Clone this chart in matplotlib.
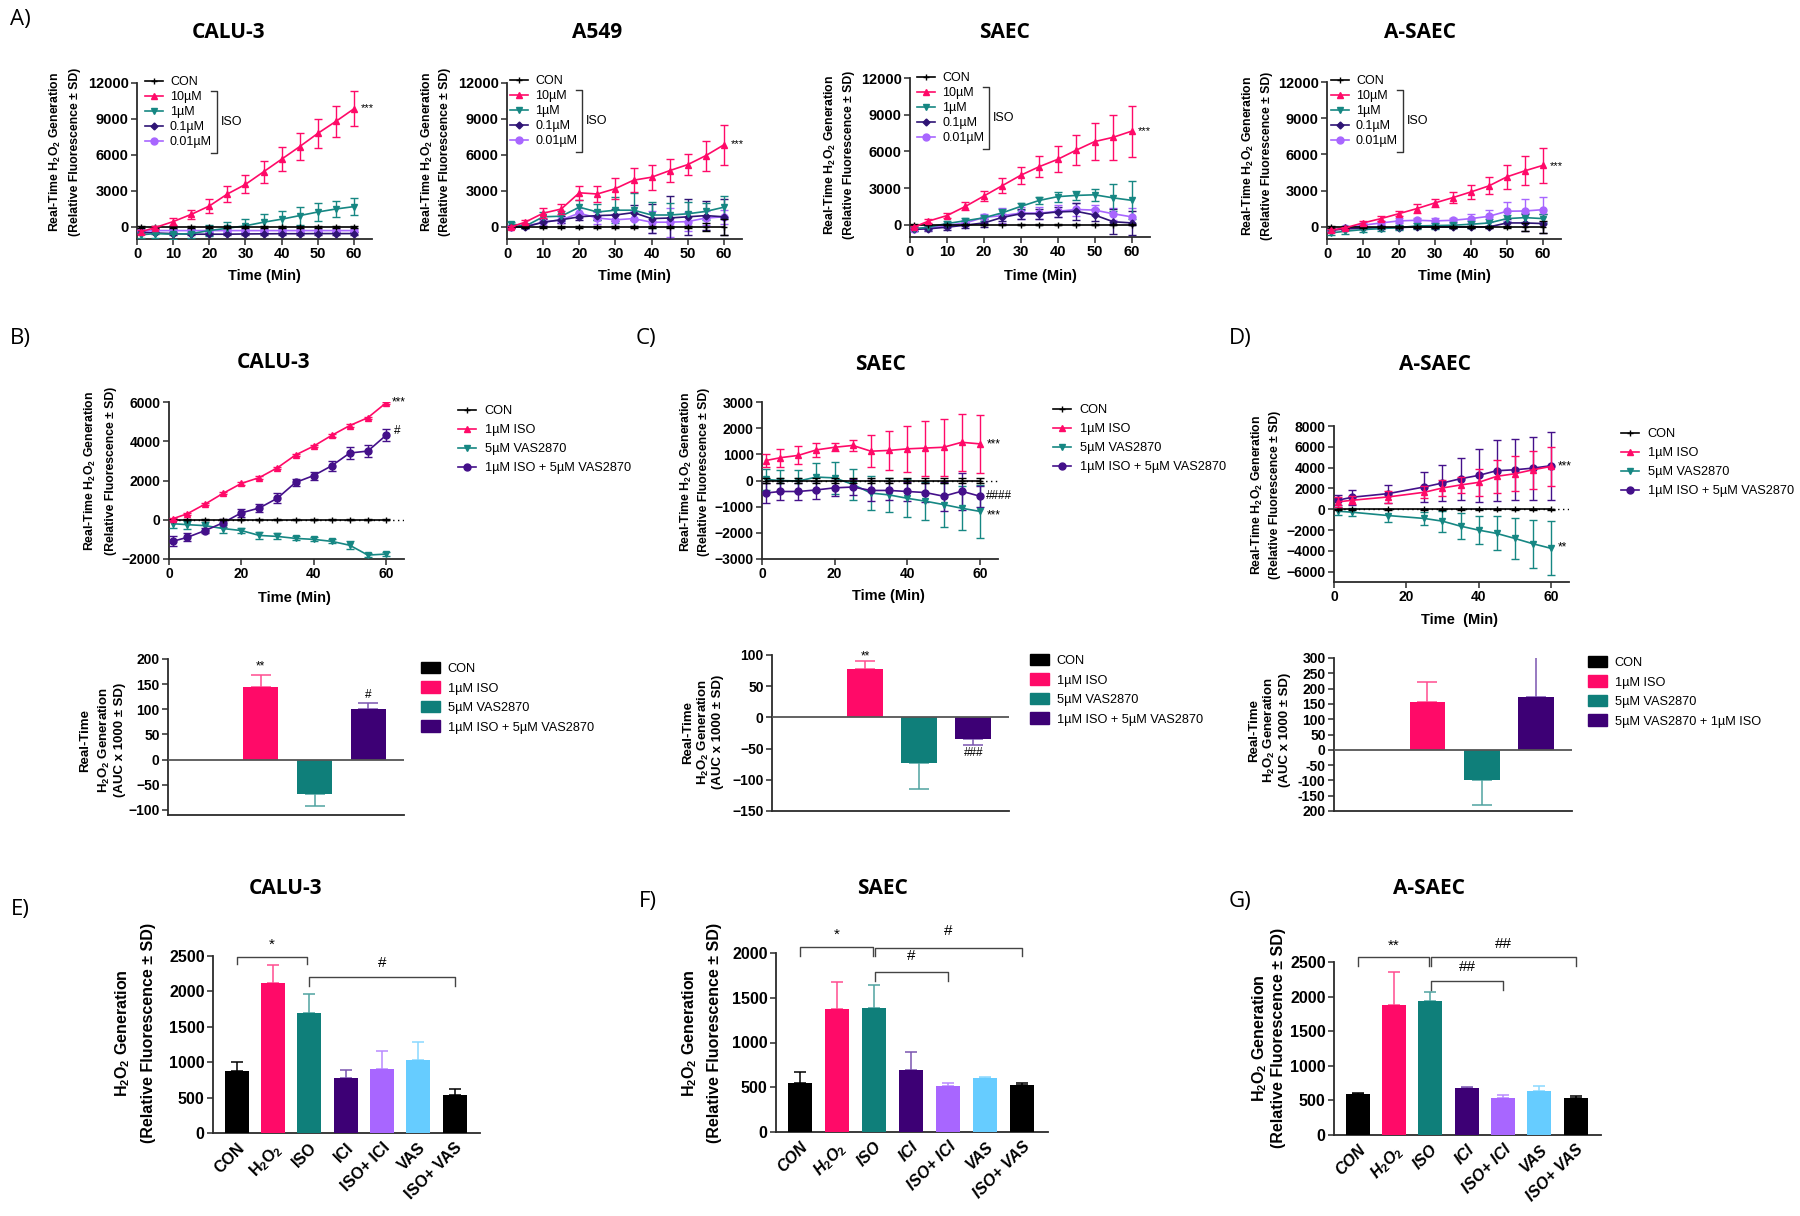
import numpy as np
import matplotlib
matplotlib.use("Agg")
import matplotlib.pyplot as plt
from matplotlib.lines import Line2D
from matplotlib.patches import Patch

# ===================== DATA =====================
t_a = [1, 5, 10, 15, 20, 25, 30, 35, 40, 45, 50, 55, 60]
a_xticks = [0, 10, 20, 30, 40, 50, 60]
a_yticks = [0, 3000, 6000, 9000, 12000]
a_labels = ["CON", "10µM", "1µM", "0.1µM", "0.01µM"]

# A) CALU-3
calu_con = [0, 0, 0, 0, 0, 0, 0, 0, 0, 0, 0, 0, 0]
calu_con_sd = [60, 60, 60, 60, 60, 60, 60, 60, 60, 60, 60, 60, 60]
calu_10 = [-400, -50, 450, 1050, 1750, 2750, 3550, 4600, 5650, 6700, 7800, 8800, 9850]
calu_10_sd = [150, 150, 300, 400, 550, 650, 750, 900, 1000, 1150, 1200, 1300, 1450]
calu_1 = [-650, -550, -600, -550, -300, -100, 100, 400, 650, 950, 1250, 1500, 1700]
calu_1_sd = [300, 350, 400, 400, 450, 500, 600, 650, 700, 750, 750, 700, 700]
calu_01 = [-450, -500, -550, -600, -600, -600, -580, -570, -560, -560, -550, -550, -550]
calu_01_sd = [100, 100, 100, 100, 100, 100, 100, 100, 100, 100, 100, 100, 100]
calu_001 = [-350, -300, -300, -300, -300, -300, -300, -300, -300, -300, -300, -300, -300]
calu_001_sd = [100, 100, 100, 100, 100, 100, 100, 100, 100, 100, 100, 100, 100]

# A) A549
a549_con = [0, 0, 0, 0, 0, 0, 0, 0, 0, 0, 0, 0, 0]
a549_con_sd = [50, 50, 50, 50, 50, 50, 50, 50, 50, 50, 50, 300, 700]
a549_10 = [0, 400, 1150, 1500, 2850, 2750, 3200, 3900, 4150, 4700, 5200, 5950, 6850]
a549_10_sd = [100, 150, 400, 400, 600, 700, 850, 1000, 1050, 950, 900, 1250, 1650]
a549_1 = [280, 60, 850, 900, 1650, 1250, 1400, 1400, 1000, 1000, 1100, 1300, 1650]
a549_1_sd = [150, 150, 400, 400, 600, 700, 1100, 1400, 1100, 1000, 1000, 700, 900]
a549_01 = [0, 0, 400, 600, 850, 950, 1000, 1200, 700, 750, 850, 950, 850]
a549_01_sd = [100, 100, 300, 300, 300, 400, 500, 600, 1200, 1800, 1500, 1200, 1500]
a549_001 = [0, 50, 400, 600, 1150, 750, 600, 700, 400, 400, 450, 750, 850]
a549_001_sd = [100, 100, 300, 300, 400, 500, 500, 600, 900, 1200, 800, 600, 600]

# A) SAEC
saec_con = [0, 0, 0, 0, 0, 0, 0, 0, 0, 0, 0, 0, 0]
saec_con_sd = [50, 50, 50, 50, 50, 50, 50, 50, 50, 50, 50, 50, 50]
saec_10 = [-200, 300, 750, 1500, 2350, 3200, 4050, 4750, 5350, 6100, 6800, 7150, 7650]
saec_10_sd = [100, 150, 200, 330, 400, 600, 700, 850, 1050, 1200, 1500, 1850, 2100]
saec_1 = [-330, -200, 100, 330, 570, 980, 1500, 1990, 2300, 2400, 2450, 2200, 2000]
saec_1_sd = [150, 150, 200, 200, 250, 300, 300, 300, 400, 400, 500, 1100, 1550]
saec_01 = [-380, -330, -200, -30, 150, 600, 900, 900, 1050, 1100, 800, 250, 150]
saec_01_sd = [150, 150, 200, 200, 300, 300, 400, 400, 400, 700, 500, 1000, 1000]
saec_001 = [-330, -280, -50, 150, 600, 750, 950, 950, 1100, 1250, 1200, 900, 650]
saec_001_sd = [150, 150, 200, 250, 300, 600, 500, 500, 500, 500, 400, 500, 700]

# A) A-SAEC
asaec_con = [0, 0, 0, 0, 0, 0, 0, 0, 0, 0, 0, 0, 0]
asaec_con_sd = [50, 50, 50, 50, 50, 50, 50, 50, 50, 50, 50, 300, 500]
asaec_10 = [-280, -80, 330, 690, 1100, 1520, 1990, 2430, 2900, 3400, 4150, 4650, 5100]
asaec_10_sd = [100, 100, 150, 200, 200, 400, 350, 450, 600, 700, 1000, 1200, 1450]
asaec_1 = [-500, -360, -220, -140, -50, 80, 110, 140, 220, 330, 690, 770, 690]
asaec_1_sd = [200, 200, 200, 200, 200, 250, 250, 250, 300, 300, 300, 400, 350]
asaec_01 = [-280, -170, -110, -80, -50, 0, 0, 0, 0, 0, 330, 330, 280]
asaec_01_sd = [100, 100, 100, 100, 100, 100, 100, 100, 100, 100, 300, 700, 800]
asaec_001 = [-280, -100, 140, 330, 500, 550, 500, 550, 690, 880, 1300, 1320, 1430]
asaec_001_sd = [100, 100, 150, 150, 200, 200, 200, 200, 400, 500, 800, 970, 1050]

# B-D line plots
line_labels = ["CON", "1µM ISO", "5µM VAS2870", "1µM ISO + 5µM VAS2870"]
t_b = [1, 5, 10, 15, 20, 25, 30, 35, 40, 45, 50, 55, 60]
b_con = [0, 0, 0, 0, 0, 0, 0, 0, 0, 0, 0, 0, 0]
b_con_sd = [30, 30, 30, 30, 30, 30, 30, 30, 30, 30, 30, 30, 30]
b_iso = [50, 300, 800, 1350, 1850, 2150, 2650, 3300, 3750, 4300, 4800, 5200, 5950]
b_iso_sd = [60, 60, 60, 60, 60, 60, 60, 60, 60, 60, 60, 60, 60]
b_vas = [-200, -250, -300, -450, -550, -800, -850, -950, -1000, -1100, -1300, -1800, -1750]
b_vas_sd = [200, 200, 200, 200, 150, 200, 150, 100, 100, 100, 200, 120, 120]
b_isovas = [-1100, -900, -550, -150, 350, 600, 1100, 1900, 2250, 2750, 3400, 3500, 4300]
b_isovas_sd = [250, 200, 150, 200, 200, 200, 250, 200, 200, 250, 300, 300, 300]

t_c = [1, 5, 10, 15, 20, 25, 30, 35, 40, 45, 50, 55, 60]
c_con = [0, 0, 0, 0, 0, 0, 0, 0, 0, 0, 0, 0, 0]
c_con_sd = [80, 80, 80, 80, 80, 80, 80, 80, 80, 80, 80, 80, 80]
c_iso = [760, 870, 960, 1170, 1270, 1340, 1120, 1150, 1210, 1240, 1270, 1460, 1400]
c_iso_sd = [260, 340, 340, 260, 160, 200, 600, 760, 890, 1050, 1090, 1090, 1120]
c_vas = [40, 0, -20, 130, 100, -150, -480, -550, -680, -790, -920, -1060, -1180]
c_vas_sd = [400, 420, 420, 550, 600, 600, 650, 650, 720, 720, 840, 850, 1000]
c_isovas = [-480, -420, -420, -360, -280, -250, -380, -380, -420, -460, -600, -410, -600]
c_isovas_sd = [380, 330, 330, 330, 300, 300, 400, 350, 350, 350, 550, 700, 400]

t_d = [1, 5, 15, 25, 30, 35, 40, 45, 50, 55, 60]
d_con = [0, 0, 0, 0, 0, 0, 0, 0, 0, 0, 0]
d_con_sd = [50, 50, 50, 50, 50, 50, 50, 50, 50, 50, 50]
d_iso = [700, 860, 1180, 1630, 2040, 2330, 2580, 3160, 3410, 3790, 4110]
d_iso_sd = [500, 400, 550, 600, 800, 800, 1300, 1600, 1700, 1800, 1850]
d_vas = [-190, -290, -610, -890, -1150, -1630, -2010, -2330, -2810, -3320, -3760]
d_vas_sd = [400, 400, 600, 600, 1000, 1270, 1370, 1630, 2010, 2290, 2590]
d_isovas = [860, 1150, 1500, 2140, 2520, 2930, 3250, 3700, 3790, 3950, 4180]
d_isovas_sd = [500, 700, 860, 1400, 1750, 2040, 2520, 2940, 2940, 3030, 3280]

# B-D AUC bar plots
auc_cats = ["CON", "ISO", "VAS", "ISO+VAS"]
auc_b = [0, 145, -68, 100]
auc_b_sd = [0, 23, 24, 12]
auc_c = [0, 78, -73, -34]
auc_c_sd = [0, 12, 41, 10]
auc_d = [0, 155, -100, 173]
auc_d_sd = [0, 68, 82, 131]
auc_d_labels = ["CON", "1µM ISO", "5µM VAS2870", "5µM VAS2870 + 1µM ISO"]
auc_d_ticks = [-200, -150, -100, -50, 0, 50, 100, 150, 200, 250, 300]
auc_d_ticklabels = ["200", "-150", "-100", "-50", "0", "50", "100", "150", "200", "250", "300"]

# E-G bars
e_cats = ["CON", r"H$_\mathbf{2}$O$_\mathbf{2}$", "ISO", "ICI", "ISO+ ICI", "VAS", "ISO+ VAS"]
e_vals = [870, 2120, 1700, 770, 910, 1030, 540]
e_sd = [130, 250, 270, 120, 255, 260, 80]
f_vals = [545, 1375, 1385, 690, 515, 600, 525]
f_sd = [125, 305, 255, 200, 35, 10, 20]
g_vals = [595, 1880, 1930, 680, 540, 640, 540]
g_sd = [15, 480, 140, 10, 40, 65, 25]

# ===================== STYLE =====================
PINK = "#FF0A68"
TEAL = "#168783"
TEAL_BAR = "#0F7F7A"
DPURP = "#2F1475"
PURP = "#44108A"
PURP_BAR = "#3D0075"
LPURP = "#A866FF"
LBLUE = "#66CCFF"
AXC = "#2b2b2b"

W, H = 1800, 1216
plt.rcParams["font.family"] = ["Liberation Sans", "DejaVu Sans"]
plt.rcParams["mathtext.fontset"] = "custom"
plt.rcParams["mathtext.rm"] = "Liberation Sans"
plt.rcParams["mathtext.bf"] = "Liberation Sans:bold"
plt.rcParams["mathtext.it"] = "Liberation Sans:italic"

fig = plt.figure(figsize=(W / 100, H / 100), dpi=100)
fig.patch.set_facecolor("white")

TITLE_FONT = ["Open Sans", "DejaVu Sans"]


def add_ax(box):
    l, t, r, b = box
    ax = fig.add_axes([l / W, 1 - b / H, (r - l) / W, (b - t) / H])
    for s in ["top", "right"]:
        ax.spines[s].set_visible(False)
    for s in ["left", "bottom"]:
        ax.spines[s].set_linewidth(1.3)
        ax.spines[s].set_color(AXC)
    ax.tick_params(axis="both", direction="out", length=4, width=1.1,
                   color=AXC, pad=2)
    ax.set_facecolor("none")
    return ax


def bold_ticks(ax, size):
    for lab in ax.get_xticklabels() + ax.get_yticklabels():
        lab.set_fontweight("bold")
        lab.set_fontsize(size)


def ftext(x, y, s, **kw):
    return fig.text(x / W, 1 - y / H, s, **kw)


def fline(xs, ys, **kw):
    fig.add_artist(Line2D([x / W for x in xs], [1 - y / H for y in ys],
                          transform=fig.transFigure, **kw))


def series(ax, t, y, sd, color, marker, ms, z=3, mew=1.0):
    ax.errorbar(t, y, yerr=sd, color=color, marker=marker, ms=ms, lw=1.2,
                elinewidth=1.0, capsize=2.6, capthick=1.0, ecolor=color,
                mew=mew, zorder=z)


YL1 = r"Real-Time H$_\mathbf{2}$O$_\mathbf{2}$ Generation"
YL2 = "(Relative Fluorescence ± SD)"
CON_MS = 5
CON_MEW = 1.0

# ---- panel letters ----
for s, x, y in [("A)", 20, 20), ("B)", 20, 339), ("C)", 646, 339),
                ("D)", 1240, 339), ("E)", 20, 910), ("F)", 648, 902),
                ("G)", 1240, 902)]:
    ftext(x, y, s, fontsize=16, ha="center", va="center", family=TITLE_FONT)

# ===================== ROW A =====================
a_panels = [
    ("CALU-3", (137, 83, 372, 239), 228, (145, 76), 9900, (55, 75, 152),
     calu_con, calu_con_sd, calu_10, calu_10_sd, calu_1, calu_1_sd,
     calu_01, calu_01_sd, calu_001, calu_001_sd),
    ("A549", (507, 83, 742, 239), 597, (510, 75), 6900, (427, 445, 152),
     a549_con, a549_con_sd, a549_10, a549_10_sd, a549_1, a549_1_sd,
     a549_01, a549_01_sd, a549_001, a549_001_sd),
    ("SAEC", (910, 78, 1150, 237), 1005, (917, 72), 7650, (830, 849, 155),
     saec_con, saec_con_sd, saec_10, saec_10_sd, saec_1, saec_1_sd,
     saec_01, saec_01_sd, saec_001, saec_001_sd),
    ("A-SAEC", (1327, 82, 1561, 239), 1420, (1331, 75), 5050, (1248, 1267, 156),
     asaec_con, asaec_con_sd, asaec_10, asaec_10_sd, asaec_1, asaec_1_sd,
     asaec_01, asaec_01_sd, asaec_001, asaec_001_sd),
]

for (title, box, tx, leg_xy, star_y, ylx, con, con_sd, s10, s10_sd, s1, s1_sd,
     s01, s01_sd, s001, s001_sd) in a_panels:
    ax = add_ax(box)
    series(ax, t_a, s001, s001_sd, LPURP, "o", 5)
    series(ax, t_a, s01, s01_sd, DPURP, "D", 3.5)
    series(ax, t_a, s1, s1_sd, TEAL, "v", 5)
    series(ax, t_a, con, con_sd, "k", "+", CON_MS, z=4, mew=CON_MEW)
    series(ax, t_a, s10, s10_sd, PINK, "^", 5, z=5)
    ax.set_xlim(0, 65)
    ax.set_ylim(-1000, 12000)
    ax.set_xticks(a_xticks)
    ax.set_yticks(a_yticks)
    bold_ticks(ax, 10.5)
    ax.text(61.8, star_y, "***", fontsize=8, ha="left", va="center")
    ftext(tx, 33, title, fontsize=15, fontweight="bold", ha="center",
          va="center", family=TITLE_FONT)
    ftext((box[0] + box[2]) / 2 + 10, 276, "Time (Min)", fontsize=10.5,
          fontweight="bold", ha="center", va="center")
    ftext(ylx[0], ylx[2], YL1, fontsize=8.8, fontweight="bold", rotation=90,
          ha="center", va="center")
    ftext(ylx[1], ylx[2], YL2, fontsize=8.8, fontweight="bold", rotation=90,
          ha="center", va="center")
    handles = [
        Line2D([], [], color="k", marker="+", ms=CON_MS, mew=CON_MEW, lw=1.2),
        Line2D([], [], color=PINK, marker="^", ms=5, lw=1.2),
        Line2D([], [], color=TEAL, marker="v", ms=5, lw=1.2),
        Line2D([], [], color=DPURP, marker="D", ms=3.5, lw=1.2),
        Line2D([], [], color=LPURP, marker="o", ms=5, lw=1.2),
    ]
    lx, ly = leg_xy
    ax.legend(handles, a_labels, loc="upper left",
              bbox_to_anchor=(lx / W, 1 - ly / H), bbox_transform=fig.transFigure,
              frameon=False, fontsize=9, handlelength=1.4, handletextpad=0.6,
              labelspacing=0.24, borderpad=0, borderaxespad=0)
    bx = lx + 72
    fline([bx - 6, bx, bx, bx - 6], [ly + 15, ly + 15, ly + 77, ly + 77],
          color="#333333", lw=1.0)
    ftext(bx + 4, ly + 46, "ISO", fontsize=9, ha="left", va="center")

# ===================== ROW B-D LINES =====================
line_panels = [
    ("CALU-3", (169, 402, 404, 559), 274, 363, (-2000, 6000),
     [-2000, 0, 2000, 4000, 6000], t_b, b_con, b_con_sd, b_iso, b_iso_sd,
     b_vas, b_vas_sd, b_isovas, b_isovas_sd, (458, 405), (90, 111, 471),
     [(61.5, 6000, "***"), (62.3, 4500, "#")], 598, "Time (Min)"),
    ("SAEC", (762, 402, 998, 559), 881, 365, (-3000, 3000),
     [-3000, -2000, -1000, 0, 1000, 2000, 3000], t_c, c_con, c_con_sd, c_iso,
     c_iso_sd, c_vas, c_vas_sd, c_isovas, c_isovas_sd, (1053, 404),
     (686, 704, 472),
     [(61.8, 1380, "***"), (61.8, -590, "####"), (61.8, -1320, "***")], 596,
     "Time (Min)"),
    ("A-SAEC", (1334, 426, 1569, 582), 1435, 365, (-7000, 8000),
     [-6000, -4000, -2000, 0, 2000, 4000, 6000, 8000], t_d, d_con, d_con_sd,
     d_iso, d_iso_sd, d_vas, d_vas_sd, d_isovas, d_isovas_sd, (1621, 428),
     (1257, 1275, 495), [(61.8, 4100, "***"), (61.8, -3700, "**")], 620,
     "Time  (Min)"),
]

for (title, box, tx, ty, ylim, yticks, t, con, con_sd, iso, iso_sd, vas, vas_sd,
     iv, iv_sd, leg_xy, ylx, notes, xly, xlab) in line_panels:
    ax = add_ax(box)
    ax.axhline(0, color="k", lw=1.0, ls=(0, (1, 2.5)), zorder=2)
    series(ax, t, vas, vas_sd, TEAL, "v", 5)
    series(ax, t, iv, iv_sd, PURP, "o", 5)
    series(ax, t, con, con_sd, "k", "+", CON_MS, z=4, mew=CON_MEW)
    series(ax, t, iso, iso_sd, PINK, "^", 5, z=5)
    ax.set_xlim(0, 65)
    ax.set_ylim(*ylim)
    ax.set_xticks([0, 20, 40, 60])
    ax.set_yticks(yticks)
    bold_ticks(ax, 10)
    for x, y, s in notes:
        ax.text(x, y, s, fontsize=8.5, ha="left", va="center")
    ftext(tx, ty, title, fontsize=15, fontweight="bold", ha="center",
          va="center", family=TITLE_FONT)
    ftext((box[0] + box[2]) / 2 + 8, xly, xlab, fontsize=10.5,
          fontweight="bold", ha="center", va="center")
    ftext(ylx[0], ylx[2], YL1, fontsize=8.8, fontweight="bold", rotation=90,
          ha="center", va="center")
    ftext(ylx[1], ylx[2], YL2, fontsize=8.8, fontweight="bold", rotation=90,
          ha="center", va="center")
    handles = [
        Line2D([], [], color="k", marker="+", ms=CON_MS, mew=CON_MEW, lw=1.2),
        Line2D([], [], color=PINK, marker="^", ms=5, lw=1.2),
        Line2D([], [], color=TEAL, marker="v", ms=5, lw=1.2),
        Line2D([], [], color=PURP, marker="o", ms=5, lw=1.2),
    ]
    lx, ly = leg_xy
    ax.legend(handles, line_labels, loc="upper left",
              bbox_to_anchor=(lx / W, 1 - ly / H), bbox_transform=fig.transFigure,
              frameon=False, fontsize=9.2, handlelength=1.4, handletextpad=0.7,
              labelspacing=0.56, borderpad=0, borderaxespad=0)

# ===================== ROW B-D AUC BARS =====================
auc_panels = [
    ((168, 659, 404, 815), (-110, 200), [-100, -50, 0, 50, 100, 150, 200], None,
     auc_b, auc_b_sd, line_labels, (421, 662), (85, 104, 120, 740),
     [(1, "**", 186), (3, "#", 128)]),
    ((772, 655, 1009, 811), (-150, 100), [-150, -100, -50, 0, 50, 100], None,
     auc_c, auc_c_sd, line_labels, (1030, 654), (688, 703, 718, 732),
     [(1, "**", 98), (3, "###", -57)]),
    ((1334, 658, 1572, 811), (-200, 300), auc_d_ticks, auc_d_ticklabels,
     auc_d, auc_d_sd, auc_d_labels, (1588, 656), (1254, 1269, 1285, 730), []),
]
auc_colors = ["k", PINK, TEAL_BAR, PURP_BAR]
auc_ecolors = ["k", "#FF4D8F", "#4FA3A0", "#7A55B0"]

for (box, ylim, yticks, yticklabels, vals, sds, labels, leg_xy, ylx,
     notes) in auc_panels:
    ax = add_ax(box)
    x = np.arange(len(vals))
    ax.bar(x, vals, width=0.66, color=auc_colors, zorder=3)
    for xi, v, s, ec in zip(x, vals, sds, auc_ecolors):
        if s > 0:
            yerr = [[0], [s]] if v > 0 else [[s], [0]]
            ax.errorbar([xi], [v], yerr=yerr, fmt="none", ecolor=ec,
                        elinewidth=1.1, capsize=7, capthick=1.1, zorder=2)
    ax.axhline(0, color="#555555", lw=1.3, zorder=4)
    ax.set_xlim(-0.72, 3.66)
    ax.set_ylim(*ylim)
    ax.set_xticks([])
    ax.set_yticks(yticks)
    if yticklabels is not None:
        ax.set_yticklabels(yticklabels)
    bold_ticks(ax, 10)
    for xi, s, yv in notes:
        ax.text(xi, yv, s, fontsize=8.5, ha="center", va="center")
    ftext(ylx[0], ylx[3], "Real-Time", fontsize=9.5, fontweight="bold",
          rotation=90, ha="center", va="center")
    ftext(ylx[1], ylx[3], r"H$_\mathbf{2}$O$_\mathbf{2}$ Generation", fontsize=9.5,
          fontweight="bold", rotation=90, ha="center", va="center")
    ftext(ylx[2], ylx[3], "(AUC x 1000 ± SD)", fontsize=9.5, fontweight="bold",
          rotation=90, ha="center", va="center")
    handles = [Patch(color=c) for c in auc_colors]
    lx, ly = leg_xy
    ax.legend(handles, labels, loc="upper left",
              bbox_to_anchor=(lx / W, 1 - ly / H), bbox_transform=fig.transFigure,
              frameon=False, fontsize=9.2, handlelength=1.5, handleheight=1.0,
              handletextpad=0.6, labelspacing=0.5, borderpad=0,
              borderaxespad=0)

# ===================== ROW E-G =====================
e_colors = ["k", PINK, TEAL_BAR, PURP_BAR, LPURP, LBLUE, "k"]
e_ecolors = ["k", "#FF4D8F", "#4FA3A0", "#7A55B0", "#B98AFF", "#8AD8FF", "k"]

eg_panels = [
    ("CALU-3", (213, 956, 480, 1133), 285, 2500, e_vals, e_sd, (123, 148, 1033),
     "normal",
     [(0, 1.95, 2480, 2390, 2655, "*"), (2, 6, 2210, 2080, 2400, "#")]),
    ("SAEC", (776, 953, 1048, 1132), 882, 2000, f_vals, f_sd, (690, 715, 1033),
     "italic",
     [(0, 1.97, 2067, 1963, 2205, "*"), (2.03, 6, 2060, 1963, 2242, "#"),
      (2.03, 4, 1784, 1683, 1963, "#")]),
    ("A-SAEC", (1334, 962, 1601, 1135), 1429, 2500, g_vals, g_sd,
     (1260, 1279, 1038), "italic",
     [(0, 1.97, 2572, 2438, 2740, "**"), (2.03, 6, 2572, 2438, 2760, "##"),
      (2.03, 4, 2226, 2102, 2428, "##")]),
]

for (title, box, tx, ymax, vals, sds, ylx, lstyle, brackets) in eg_panels:
    ax = add_ax(box)
    x = np.arange(len(vals))
    ax.bar(x, vals, width=0.66, color=e_colors, zorder=3)
    for xi, v, s, ec in zip(x, vals, sds, e_ecolors):
        ax.errorbar([xi], [v], yerr=[[0], [s]], fmt="none", ecolor=ec,
                    elinewidth=1.1, capsize=4, capthick=1.1, zorder=2)
    ax.set_xlim(-0.65, 6.7)
    ax.set_ylim(0, ymax)
    ax.set_yticks(np.arange(0, ymax + 1, 500))
    ax.set_xticks(x)
    ax.set_xticklabels(e_cats, rotation=45, ha="right", va="top",
                       rotation_mode="anchor", style=lstyle)
    ax.tick_params(axis="x", length=0, pad=5)
    bold_ticks(ax, 11.5)
    for x1, x2, ytop, ybot, ytxt, s in brackets:
        ax.plot([x1, x1, x2, x2], [ybot, ytop, ytop, ybot], color="#444444",
                lw=1.0, clip_on=False)
        ax.text((x1 + x2) / 2, ytxt, s, fontsize=11, ha="center", va="center",
                clip_on=False)
    ftext(tx, 888, title, fontsize=15, fontweight="bold", ha="center",
          va="center", family=TITLE_FONT)
    ftext(ylx[0], ylx[2], r"H$_\mathbf{2}$O$_\mathbf{2}$ Generation", fontsize=11.5,
          fontweight="bold", rotation=90, ha="center", va="center")
    ftext(ylx[1], ylx[2], YL2, fontsize=11.5, fontweight="bold", rotation=90,
          ha="center", va="center")

fig.savefig("out.png", dpi=100, facecolor="white")
